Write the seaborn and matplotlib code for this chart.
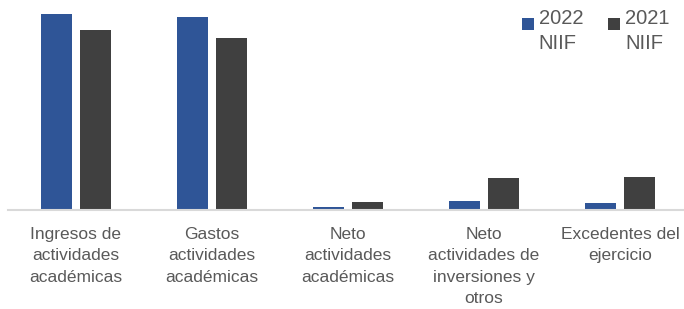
import pandas as pd
import seaborn as sns
import matplotlib.pyplot as plt
from matplotlib.patches import Rectangle
from matplotlib.legend_handler import HandlerPatch

# Chart values (arbitrary units)
categories = ['Ingresos de\nactividades\nacadémicas', 'Gastos\nactividades\nacadémicas',
              'Neto\nactividades\nacadémicas', 'Neto\nactividades de\ninversiones y\notros',
              'Excedentes del\nejercicio']
values_2022 = [196, 193, 3, 9, 7]
values_2021 = [180, 172, 8, 32, 33]
series = ['2022\nNIIF', '2021\nNIIF']

df = pd.DataFrame({
    'categoria': categories * 2,
    'valor': values_2022 + values_2021,
    'serie': [series[0]] * len(categories) + [series[1]] * len(categories),
})

sns.set_style('white')
plt.rcParams['font.family'] = ['Liberation Sans', 'DejaVu Sans']

fig = plt.figure(figsize=(6.84, 3.09), dpi=100)
ax = fig.add_axes([8 / 684, 1 - 210 / 309, 680 / 684, 210 / 309])

sns.barplot(data=df, x='categoria', y='valor', hue='serie', ax=ax,
            palette=['#2F5597', '#404040'], width=0.574, gap=0.205,
            edgecolor='none', saturation=1)

ax.set_xlim(-0.5, 4.5)
ax.set_ylim(0, 210)
ax.set_xlabel('')
ax.set_ylabel('')
ax.set_yticks([])
for side in ['top', 'right', 'left']:
    ax.spines[side].set_visible(False)
ax.spines['bottom'].set_color('#D9D9D9')
ax.spines['bottom'].set_linewidth(1.5)
ax.tick_params(axis='x', length=0, pad=12, labelsize=12.5, labelcolor='#595959')
for lbl in ax.get_xticklabels():
    lbl.set_linespacing(1.55)


# square legend marker sitting on the first text line
def top_square(legend, orig_handle, xdescent, ydescent, width, height, fontsize):
    sq = width
    return Rectangle((-xdescent, -ydescent + height - sq - 0.2 * fontsize), sq, sq)


handles, labels = ax.get_legend_handles_labels()
leg = ax.legend(handles, labels, ncol=2, frameon=False, fontsize=14.5,
                loc='upper right', bbox_to_anchor=(670 / 684, 1 - 9 / 309),
                bbox_transform=fig.transFigure,
                handlelength=0.6, handleheight=2.4, handletextpad=0.25, columnspacing=1.25,
                labelcolor='#595959', borderaxespad=0, borderpad=0,
                handler_map={Rectangle: HandlerPatch(patch_func=top_square)})
for t in leg.get_texts():
    t.set_linespacing(1.41)

fig.savefig('out.png', dpi=100)
